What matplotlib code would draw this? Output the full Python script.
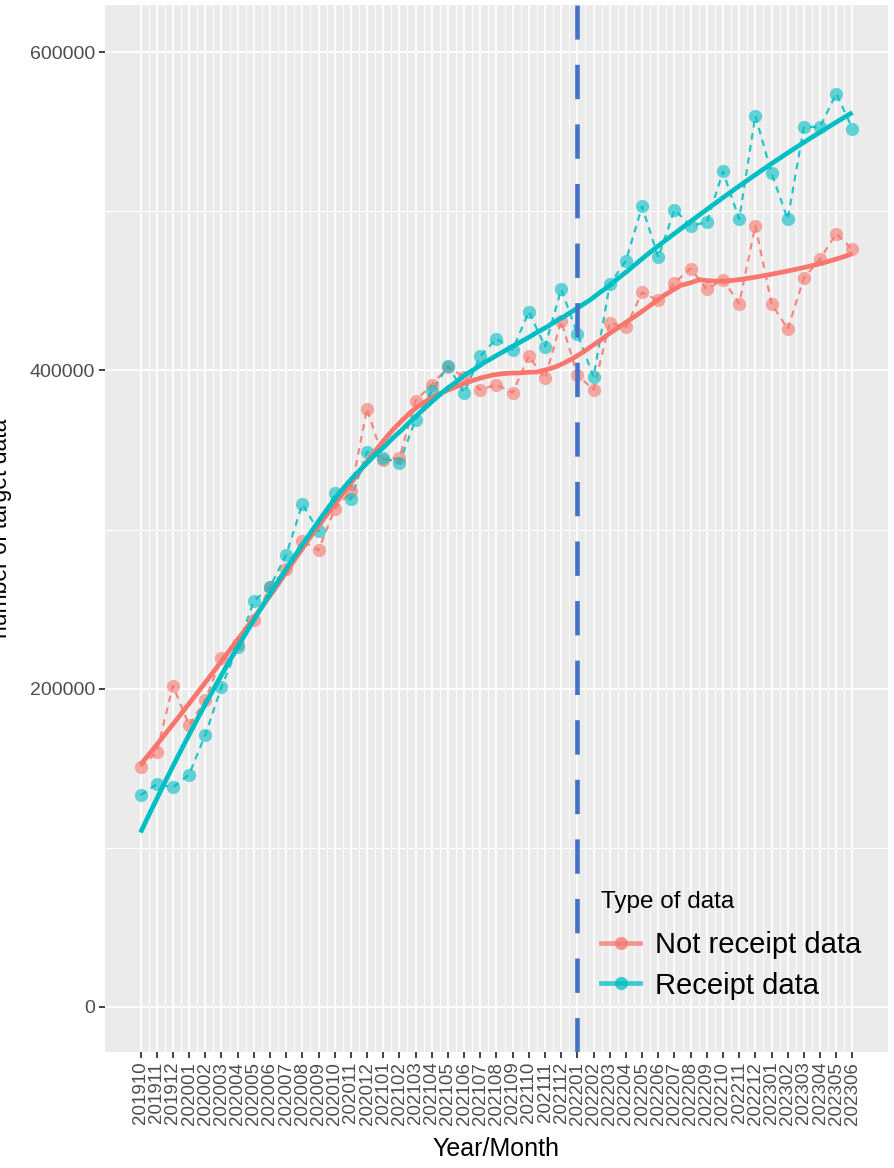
import matplotlib
matplotlib.use('Agg')

import matplotlib.pyplot as plt
from matplotlib.lines import Line2D
import numpy as np

plt.rcParams['font.family'] = ['Liberation Sans', 'DejaVu Sans']

# months on the x axis (treated as an evenly spaced index)
months = ['201910', '201911', '201912', '202001', '202002', '202003', '202004',
          '202005', '202006', '202007', '202008', '202009', '202010', '202011',
          '202012', '202101', '202102', '202103', '202104', '202105', '202106',
          '202107', '202108', '202109', '202110', '202111', '202112', '202201',
          '202202', '202203', '202204', '202205', '202206', '202207', '202208',
          '202209', '202210', '202211', '202212', '202301', '202302', '202303',
          '202304', '202305', '202306']

not_receipt = [151000, 160000, 202000, 177000, 193000, 219000, 228000, 243000,
               264000, 275000, 293000, 287000, 313000, 324000, 376000, 344000,
               345000, 381000, 391000, 402000, 396000, 388000, 391000, 386000,
               409000, 395000, 431000, 397000, 388000, 430000, 427000, 449000,
               444000, 455000, 464000, 451000, 457000, 442000, 491000, 442000,
               426000, 458000, 470000, 486000, 476000]

receipt = [133000, 140000, 138000, 146000, 171000, 201000, 226000, 255000,
           264000, 284000, 316000, 299000, 323000, 319000, 349000, 345000,
           342000, 369000, 387000, 403000, 386000, 409000, 420000, 413000,
           437000, 415000, 451000, 423000, 396000, 454000, 469000, 503000,
           471000, 501000, 491000, 493000, 525000, 495000, 560000, 524000,
           495000, 553000, 553000, 574000, 552000]

series_names = ['Not receipt data', 'Receipt data']
colors = ['#F8766D', '#00BFC4']
spans = [0.45, 0.6]
cut_month = '202201'


def loess(x, y, xs, span):
  # local quadratic fit with tricube weights
  x = np.asarray(x, float)
  y = np.asarray(y, float)
  q = int(np.floor(len(x) * span))
  out = []
  for x0 in xs:
    d = np.abs(x - x0)
    h = np.sort(d)[q - 1]
    w = np.clip(1 - (d / h) ** 3, 0, None) ** 3
    A = np.vstack([np.ones_like(x), x - x0, (x - x0) ** 2]).T
    W = np.sqrt(w)
    coef = np.linalg.lstsq(A * W[:, None], y * W, rcond=None)[0]
    out.append(coef[0])
  return np.array(out)


idx = np.arange(len(months))
xs = np.linspace(idx[0], idx[-1], 80)

fig = plt.figure(figsize=(8.94, 11.68), dpi=100)
ax = fig.add_axes([0.1174, 0.0993, 0.8759, 0.8964])
ax.set_facecolor('#EBEBEB')
for s in ax.spines.values():
  s.set_visible(False)

for vals, c, sp in zip([not_receipt, receipt], colors, spans):
  ax.plot(idx, vals, linestyle=(0, (3, 2.5)), color=c, lw=1.6, alpha=0.85, zorder=3)
  ax.plot(idx, vals, 'o', color=c, ms=9.5, alpha=0.6, mec='none', zorder=4)
  ax.plot(xs, loess(idx, vals, xs, sp), color=c, lw=3.4, zorder=5, solid_capstyle='butt')

ax.axvline(months.index(cut_month), color='#4472C4', lw=3.3,
           linestyle=(0, (7.5, 5.5)), zorder=6)

ax.set_xlim(-2.2, len(months) - 1 + 2.2)
ax.set_ylim(-28300, 629600)
ax.set_xticks(idx)
ax.set_xticklabels(months, rotation=90, fontsize=13.5, color='#4D4D4D')
ax.set_xticks(idx[:-1] + 0.5, minor=True)
ax.set_yticks([0, 200000, 400000, 600000])
ax.set_yticklabels(['0', '200000', '400000', '600000'], fontsize=14, color='#4D4D4D')
ax.set_yticks([100000, 300000, 500000], minor=True)
ax.tick_params(axis='both', which='major', length=4, width=1.3, color='#333333', pad=3)
ax.tick_params(axis='both', which='minor', length=0)
ax.grid(which='major', color='white', lw=1.3)
ax.grid(which='minor', color='white', lw=0.7)
ax.set_axisbelow(True)

ax.set_xlabel('Year/Month', fontsize=18, labelpad=9)
ax.set_ylabel('number of target data', fontsize=16.5)
ax.yaxis.set_label_coords(-0.119, 0.5)

handles = [Line2D([], [], color=c, lw=3.4, marker='o', ms=9.5,
                  markerfacecolor=c, markeredgecolor='none', alpha=0.75)
           for c in colors]
leg = ax.legend(handles, series_names, title='Type of data', loc='lower left',
                bbox_to_anchor=(0.6, 0.025), frameon=False, fontsize=21,
                title_fontsize=17.5, handlelength=1.35, handletextpad=0.5,
                labelspacing=0.42)
leg._legend_box.align = 'left'
leg._legend_box.sep = 13

fig.savefig('out.png', dpi=100)
plt.close()
